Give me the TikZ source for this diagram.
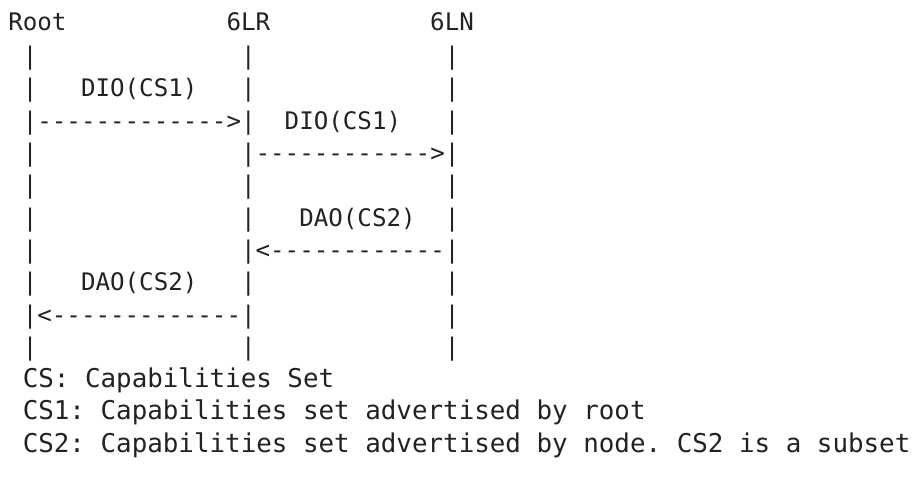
\documentclass[tikz,border=0pt]{standalone}
\usepackage{fontspec}
\setmonofont{DejaVu Sans Mono}
\definecolor{ink}{RGB}{34,34,34}
\tikzset{
  tt/.style={inner sep=0pt, anchor=base west, text=ink,
    font=\ttfamily\fontsize{18.13pt}{20pt}\selectfont},
  note/.style={inner sep=0pt, anchor=base west, text=ink,
    font=\ttfamily\fontsize{19.4pt}{21pt}\selectfont}
}
\newcommand{\cx}[1]{8+14.55*#1}
\newcommand{\ry}[1]{32.3*(#1+1)}
\begin{document}
\begin{tikzpicture}[x=0.75pt,y=-0.75pt]
\useasboundingbox (0,0) rectangle (912,486);
% line 0
\node[tt] (root) at ({\cx{0}},30) {Root};
\node[tt] (lr) at ({\cx{15}},30) {6LR};
\node[tt] (ln) at ({\cx{29}},30) {6LN};
% line 1
\node[tt] (a1) at ({\cx{1}},{\ry{1}}) {|};
\node[tt] (b1) at ({\cx{16}},{\ry{1}}) {|};
\node[tt] (c1) at ({\cx{30}},{\ry{1}}) {|};
% line 2
\node[tt] (a2) at ({\cx{1}},{\ry{2}}) {|};
\node[tt] (m2) at ({\cx{5}},{\ry{2}}) {DIO(CS1)};
\node[tt] (b2) at ({\cx{16}},{\ry{2}}) {|};
\node[tt] (c2) at ({\cx{30}},{\ry{2}}) {|};
% line 3
\node[tt] (a3) at ({\cx{1}},{\ry{3}}) {|------------->|};
\node[tt] (m3) at ({\cx{19}},{\ry{3}}) {DIO(CS1)};
\node[tt] (c3) at ({\cx{30}},{\ry{3}}) {|};
% line 4
\node[tt] (a4) at ({\cx{1}},{\ry{4}}) {|};
\node[tt] (b4) at ({\cx{16}},{\ry{4}}) {|------------>|};
% line 5
\node[tt] (a5) at ({\cx{1}},{\ry{5}}) {|};
\node[tt] (b5) at ({\cx{16}},{\ry{5}}) {|};
\node[tt] (c5) at ({\cx{30}},{\ry{5}}) {|};
% line 6
\node[tt] (a6) at ({\cx{1}},{\ry{6}}) {|};
\node[tt] (b6) at ({\cx{16}},{\ry{6}}) {|};
\node[tt] (m6) at ({\cx{20}},{\ry{6}}) {DAO(CS2)};
\node[tt] (c6) at ({\cx{30}},{\ry{6}}) {|};
% line 7
\node[tt] (a7) at ({\cx{1}},{\ry{7}}) {|};
\node[tt] (b7) at ({\cx{16}},{\ry{7}}) {|<------------|};
% line 8
\node[tt] (a8) at ({\cx{1}},{\ry{8}}) {|};
\node[tt] (m8) at ({\cx{5}},{\ry{8}}) {DAO(CS2)};
\node[tt] (b8) at ({\cx{16}},{\ry{8}}) {|};
\node[tt] (c8) at ({\cx{30}},{\ry{8}}) {|};
% line 9
\node[tt] (a9) at ({\cx{1}},{\ry{9}}) {|<-------------|};
\node[tt] (c9) at ({\cx{30}},{\ry{9}}) {|};
% line 10
\node[tt] (a10) at ({\cx{1}},{\ry{10}}) {|};
\node[tt] (b10) at ({\cx{16}},{\ry{10}}) {|};
\node[tt] (c10) at ({\cx{30}},{\ry{10}}) {|};
% notes
\node[note] (n1) at (22.5,{\ry{11}}) {CS:\ Capabilities Set};
\node[note] (n2) at (22.5,{\ry{12}}) {CS1:\ Capabilities set advertised by root};
\node[note] (n3) at (22.5,{\ry{13}}) {CS2:\ Capabilities set advertised by node. CS2 is a subset};
\end{tikzpicture}
\end{document}
